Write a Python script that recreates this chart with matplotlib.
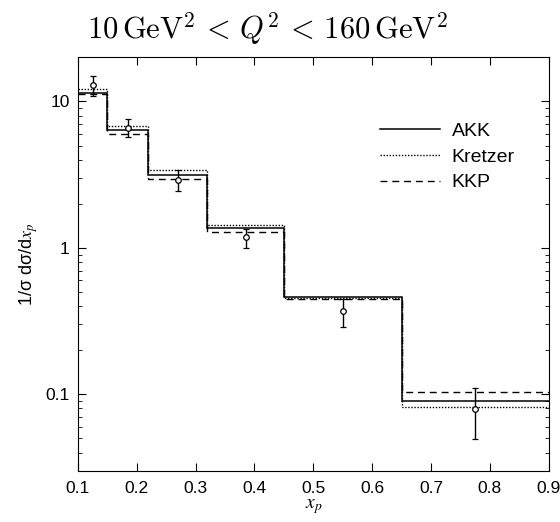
import numpy as np
import matplotlib
matplotlib.use("Agg")
import matplotlib.pyplot as plt

plt.rcParams["font.family"] = ["Liberation Sans", "DejaVu Sans"]

# bin edges in x_p
EDGES = [0.1, 0.15, 0.22, 0.32, 0.45, 0.65, 0.9]
AKK = [11.5, 6.43, 3.13, 1.36, 0.459, 0.090]
KRETZER = [12.1, 6.85, 3.41, 1.44, 0.452, 0.0824]
KKP = [11.3, 6.01, 2.95, 1.29, 0.450, 0.104]

# data points (bin centres)
X_DATA = [0.125, 0.185, 0.27, 0.385, 0.55, 0.775]
Y_DATA = [12.9, 6.64, 2.91, 1.18, 0.368, 0.0798]
Y_HI = [14.9, 7.65, 3.40, 1.35, 0.447, 0.110]
Y_LO = [10.9, 5.69, 2.43, 1.00, 0.286, 0.0492]


def main():
    fig = plt.figure(figsize=(5.6, 5.22), dpi=100)
    ax = fig.add_axes([0.139, 0.098, 0.841, 0.792])

    ax.stairs(AKK, EDGES, baseline=None, color="black", lw=1.1, ls="-", label="AKK")
    ax.stairs(KRETZER, EDGES, baseline=None, color="black", lw=1.0, ls=(0, (1, 1.2)), label="Kretzer")
    ax.stairs(KKP, EDGES, baseline=None, color="black", lw=1.0, ls=(0, (5, 3.5)), label="KKP")

    y = np.array(Y_DATA)
    yerr = [y - np.array(Y_LO), np.array(Y_HI) - y]
    ax.errorbar(X_DATA, y, yerr=yerr, fmt="o", ms=4, mfc="white", mec="black", mew=0.9,
                ecolor="black", elinewidth=1.0, capsize=2.5, capthick=1.0)

    ax.set_yscale("log")
    ax.set_xlim(0.1, 0.9)
    ax.set_ylim(0.03, 20)
    ax.set_xticks(np.arange(0.1, 0.91, 0.1))
    ax.set_xticklabels([f"{v:.1f}" for v in np.arange(0.1, 0.91, 0.1)])
    ax.set_yticks([0.1, 1, 10])
    ax.set_yticklabels(["0.1", "1", "10"])
    ax.tick_params(which="both", direction="in", top=True, right=True, labelsize=12.5)
    ax.tick_params(which="major", length=6)
    ax.tick_params(which="minor", length=3)
    ax.tick_params(axis="x", pad=7)
    ax.tick_params(axis="y", pad=6)

    ax.set_xlabel("$x_p$", fontsize=14, math_fontfamily="stix", labelpad=1)
    ax.set_ylabel("1/σ dσ/d$x_p$", fontsize=13, math_fontfamily="stix", labelpad=4)

    ax.legend(loc="upper left", bbox_to_anchor=(0.641, 0.843), frameon=False, fontsize=14,
              borderpad=0, borderaxespad=0, handlelength=3.1, handletextpad=0.6,
              labelspacing=0.42)

    fig.text(0.477, 0.946, r"$10\,\mathrm{GeV}^2\,<\,Q^2\,<\,160\,\mathrm{GeV}^2$",
             ha="center", va="center", fontsize=22, math_fontfamily="cm")

    fig.savefig("out.png", dpi=100)


if __name__ == "__main__":
    main()
